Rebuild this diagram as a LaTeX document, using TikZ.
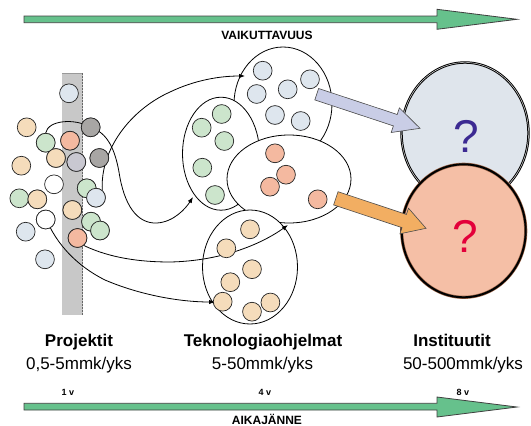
\documentclass[tikz,border=0pt]{standalone}
\usepackage{fontspec}
\setmainfont{Liberation Sans}
\usetikzlibrary{shapes.geometric,arrows.meta}
\definecolor{lblue}{HTML}{DEE6EE}
\definecolor{lgreen}{HTML}{CCE5CC}
\definecolor{lpeach}{HTML}{F5DCBB}
\definecolor{lsalmon}{HTML}{F4B9A0}
\definecolor{dgray}{HTML}{A8A6A4}
\definecolor{lav}{HTML}{C9C8D1}
\definecolor{barg}{HTML}{C8C8C8}
\definecolor{bigblue}{HTML}{DFE5EC}
\definecolor{bigsalmon}{HTML}{F5BFA6}
\definecolor{arrlav}{HTML}{C9CDE6}
\definecolor{arrorange}{HTML}{F2AE62}
\definecolor{timegreen}{HTML}{66C18C}
\definecolor{qblue}{HTML}{3C2A92}
\definecolor{qred}{HTML}{E3003A}
\definecolor{brownrim}{HTML}{A0684B}
\begin{document}
\begin{tikzpicture}[x=1pt,y=-1pt,
  ball/.style={circle,draw=black!85,line width=0.7pt,minimum size=18.8pt,inner sep=0pt},
  grp/.style={ellipse,draw=black,line width=0.8pt,fill=white,inner sep=0pt},
  flow/.style={draw=black,line width=0.8pt,-{Latex[length=6pt,width=4.5pt]}},
  timearrow/.style={draw=black!75,line width=0.8pt,fill=timegreen},
  blockarrow/.style={draw=black!70,line width=0.6pt},
  lbl/.style={font=\fontsize{17}{20}\selectfont,inner sep=0pt},
  lblb/.style={font=\fontsize{17}{20}\selectfont\bfseries,inner sep=0pt},
  axlbl/.style={font=\fontsize{12}{14}\selectfont\bfseries,inner sep=0pt},
  tick/.style={font=\fontsize{9}{11}\selectfont\bfseries,inner sep=0pt}]
\useasboundingbox (0,0) rectangle (531,426);

% time/effect arrows
\draw[timearrow] (24,16) -- (437,16) -- (437,9.3) -- (517,19.3) -- (437,29.3) -- (437,22.7) -- (24,22.7) -- cycle;
\node[axlbl] (vaik) at (267,35) {VAIKUTTAVUUS};
\draw[timearrow] (24,403.3) -- (437,403.3) -- (437,397) -- (517,407) -- (437,417) -- (437,410) -- (24,410) -- cycle;
\node[axlbl] (aika) at (267,419) {AIKAJÄNNE};
\node[tick] (t1) at (68,392.5) {1 v};
\node[tick] (t4) at (265,392.5) {4 v};
\node[tick] (t8) at (463,392.5) {8 v};

% project barrier
\fill[barg] (62,73) rectangle (82.5,315);
\draw[gray!80,line width=1.5pt] (62,73.7) -- (82.5,73.7);
\draw[black!60,line width=0.6pt,dash pattern=on 2pt off 1pt] (82.5,73) -- (82.5,315);

% programme groups
\node[grp,minimum width=98pt,minimum height=114pt] (eb) at (283,104) {};
\node[grp,minimum width=77pt,minimum height=113pt] (eg) at (221,153.7) {};
\node[grp,minimum width=124pt,minimum height=88pt] (es) at (289,179) {};
\node[grp,minimum width=95pt,minimum height=114pt] (ep) at (250,267) {};

% end points of the flows
\coordinate (endA) at (193,197);
\coordinate (endB) at (245,76);
\coordinate (endC) at (288,225);
\coordinate (endD) at (215,302);

% left cluster balls
\node[ball,fill=lblue] (l1) at (69,93.3) {};
\node[ball,fill=lpeach] (l2) at (26.7,127.3) {};
\node[ball,fill=dgray] (l3) at (90.7,127.3) {};
\node[ball,fill=lgreen] (l4) at (45.7,142.7) {};
\node[ball,fill=lsalmon] (l5) at (70,140.7) {};
\node[ball,fill=lpeach] (l6) at (56,158) {};
\node[ball,fill=lav] (l7) at (76.3,162) {};
\node[ball,fill=dgray] (l8) at (99.3,158) {};
\node[ball,fill=lpeach] (l9) at (21.3,165.7) {};
\node[ball,fill=white] (l10) at (54,184.3) {};
\node[ball,fill=lgreen] (l11) at (86.7,188.3) {};
\node[ball,fill=lblue] (l12) at (96,197.7) {};
\node[ball,fill=lgreen] (l13) at (19.3,198.3) {};
\node[ball,fill=lpeach] (l14) at (37.3,199.3) {};
\node[ball,fill=lpeach] (l15) at (72.3,210) {};
\node[ball,fill=white] (l16) at (45.7,219.5) {};
\node[ball,fill=lgreen] (l17) at (91,221.7) {};
\node[ball,fill=lgreen] (l18) at (100,230.5) {};
\node[ball,fill=lblue] (l19) at (25.7,231.7) {};
\node[ball,fill=lsalmon] (l20) at (77.5,238) {};
\node[ball,fill=lblue] (l21) at (45,259.3) {};

% flows
\path[flow] (l4.north) .. controls (48,120) and (75,118) .. (l3.center)
  .. controls (108,133) and (115,150) .. (119,172)
  .. controls (124,205) and (137,224) .. (157,223)
  .. controls (174,222) and (186,208) .. (endA);
\path[flow] (l12.50) .. controls (100,150) and (130,110) .. (170,92)
  .. controls (195,80) and (220,76) .. (endB);
\path[flow] (l20.-50) .. controls (110,258) and (140,262) .. (170,262)
  .. controls (220,261) and (260,245) .. (endC);
\path[flow] (l16.105) .. controls (52,240) and (75,265) .. (105,280)
  .. controls (140,295) and (180,302) .. (endD);

% redraw the balls the flows pass behind
\node[ball,fill=dgray] at (l3) {};
\node[ball,fill=lgreen] at (l4) {};
\node[ball,fill=lsalmon] at (l5) {};
\node[ball,fill=lpeach] at (l6) {};
\node[ball,fill=lav] at (l7) {};
\node[ball,fill=dgray] at (l8) {};
\node[ball,fill=lgreen] at (l11) {};
\node[ball,fill=lblue] at (l12) {};
\node[ball,fill=lpeach] at (l14) {};
\node[ball,fill=lpeach] at (l15) {};
\node[ball,fill=white] at (l16) {};
\node[ball,fill=lgreen] at (l17) {};
\node[ball,fill=lgreen] at (l18) {};
\node[ball,fill=lsalmon] at (l20) {};

% balls in the blue group
\node[ball,fill=lblue] (b1) at (262.7,70.7) {};
\node[ball,fill=lblue] (b2) at (310,79.3) {};
\node[ball,fill=lblue] (b3) at (256.7,94) {};
\node[ball,fill=lblue] (b4) at (287.7,89.3) {};
\node[ball,fill=lblue] (b5) at (275,115) {};
\node[ball,fill=lblue] (b6) at (300.7,121) {};
% green group
\node[ball,fill=lgreen] (g1) at (221.7,114) {};
\node[ball,fill=lgreen] (g2) at (201.7,127.7) {};
\node[ball,fill=lgreen] (g3) at (224.3,141) {};
\node[ball,fill=lgreen] (g4) at (202.3,167.7) {};
\node[ball,fill=lgreen] (g5) at (215,195) {};
% salmon group
\node[ball,fill=lsalmon] (s1) at (275,153.3) {};
\node[ball,fill=lsalmon] (s3) at (270,186.7) {};
\node[ball,fill=lsalmon] (s2) at (286,174.7) {};
\node[ball,fill=lsalmon] (s4) at (317.7,199.3) {};
% peach group
\node[ball,fill=lpeach] (p1) at (250,229.3) {};
\node[ball,fill=lpeach] (p2) at (226.3,248.3) {};
\node[ball,fill=lpeach] (p3) at (252,269.2) {};
\node[ball,fill=lpeach] (p4) at (230.3,282.2) {};
\node[ball,fill=lpeach] (p5) at (222.7,301.7) {};
\node[ball,fill=lpeach] (p6) at (270.4,302.5) {};
\node[ball,fill=lpeach] (p7) at (252,311.7) {};

% institutes
\node[ellipse,draw=black,line width=2.4pt,fill=bigblue,
  minimum width=127pt,minimum height=141pt,inner sep=0pt] (ib) at (465,133) {};
\node[ellipse,draw=white,line width=0.4pt,
  minimum width=127pt,minimum height=141pt,inner sep=0pt] at (ib) {};
\node[font=\fontsize{46}{50}\selectfont,text=qblue,inner sep=0pt] (qb) at (466.5,136) {?};
\node[ellipse,draw=brownrim,line width=3.2pt,fill=bigsalmon,
  minimum width=124pt,minimum height=133pt,inner sep=0pt] (is) at (463.7,230.8) {};
\node[ellipse,draw=black,line width=2pt,
  minimum width=124pt,minimum height=133pt,inner sep=0pt] at (is) {};
\node[font=\fontsize{46}{50}\selectfont,text=qred,inner sep=0pt] (qs) at (465,236) {?};

% block arrows
\draw[blockarrow,fill=arrlav] (318.6,88.5) -- (397.2,114.5) -- (399.4,107.9) -- (420,128.3)
  -- (391.2,132.5) -- (393.4,125.9) -- (314.8,99.9) -- cycle;
\draw[blockarrow,fill=arrorange] (338.0,191.7) -- (406.4,214.4) -- (408.5,208.2) -- (426,228.3)
  -- (399.9,233.8) -- (402.0,227.6) -- (333.6,204.9) -- cycle;

% labels
\node[lblb] (proj) at (79,342) {Projektit};
\node[lbl] (projv) at (79,365) {0,5-5mmk/yks};
\node[lblb] (tek) at (263,342) {Teknologiaohjelmat};
\node[lbl] (tekv) at (262.5,365) {5-50mmk/yks};
\node[lblb] (inst) at (452,340) {Instituutit};
\node[lbl] (instv) at (463,365) {50-500mmk/yks};
\end{tikzpicture}
\end{document}
